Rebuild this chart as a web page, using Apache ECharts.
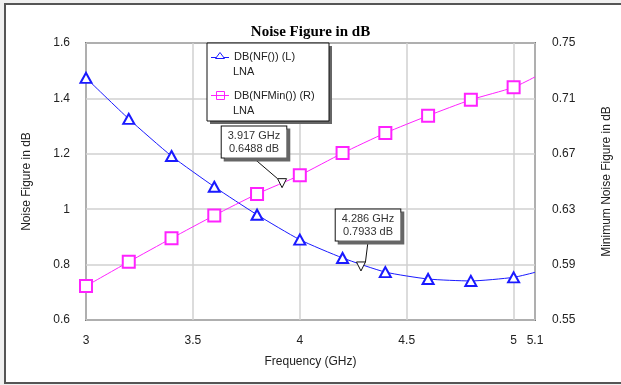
<!DOCTYPE html>
<html><head><meta charset="utf-8">
<script src="https://cdn.jsdelivr.net/npm/echarts@6/dist/echarts.min.js"></script>
<style>html,body{margin:0;padding:0;background:#f0f0f0;}#c{width:621px;height:385px;}</style>
</head><body><div id="c"></div>
<script>
const freq = [3.0, 3.2, 3.4, 3.6, 3.8, 4.0, 4.2, 4.4, 4.6, 4.8, 5.0, 5.1];
const nf = [1.474, 1.326, 1.192, 1.081, 0.980, 0.890, 0.824, 0.773, 0.748, 0.741, 0.754, 0.772];
const nfMin = [0.5745, 0.592, 0.609, 0.6255, 0.641, 0.6545, 0.6705, 0.685, 0.6975, 0.709, 0.718, 0.7255];
const nfName = 'DB(NF()) (L)';
const nfMinName = 'DB(NFMin()) (R)';
const traceLabel = 'LNA';
const marker1 = {freq: 3.917, val: 0.6488};
const marker2 = {freq: 4.286, val: 0.7933};
const rightLabels = ['0.55', '0.59', '0.63', '0.67', '0.71', '0.75'];

const chart = echarts.init(document.getElementById('c'), null, {renderer: 'canvas'});
const font = 'Liberation Sans, Arial, sans-serif';
const blue = '#1a1aff';
const magenta = '#ff22ff';

function seriesData(vals) {
  return freq.map((f, i) => i === freq.length - 1 ? {value: [f, vals[i]], symbol: 'none'} : [f, vals[i]]);
}

const markerLabel = {
  show: true,
  formatter: p => p.value[0].toFixed(3) + ' GHz\n' + p.value[1].toFixed(4) + ' dB',
  fontFamily: font, fontSize: 11, color: '#333', lineHeight: 13,
  backgroundColor: '#ffffff', borderColor: '#111', borderWidth: 1,
  padding: [3, 6, 2, 6],
  shadowColor: '#666', shadowOffsetX: 3, shadowOffsetY: 3, shadowBlur: 0,
  align: 'center', verticalAlign: 'middle'
};

chart.setOption({
  animation: false,
  backgroundColor: 'transparent',
  title: {
    text: 'Noise Figure in dB', left: 'center', top: 20,
    textStyle: {fontFamily: 'Liberation Serif, Times New Roman, serif', fontWeight: 'bold', fontSize: 15, color: '#000'}
  },
  graphic: [
    {type: 'rect', z: -10, shape: {x: 5, y: 4, width: 700, height: 379},
     style: {fill: '#fff', stroke: '#555', lineWidth: 2}},
    {type: 'rect', z: 49, shape: {x: 210, y: 46, width: 122, height: 78},
     style: {fill: '#666'}},
    {type: 'rect', z: 50, shape: {x: 207, y: 43, width: 122, height: 78},
     style: {fill: '#fff', stroke: '#111', lineWidth: 1}},
    {type: 'line', z: 61, shape: {x1: 211, y1: 57.5, x2: 229, y2: 57.5}, style: {stroke: blue, lineWidth: 1}},
    {type: 'polygon', z: 62, shape: {points: [[220, 52.5], [224.5, 58.5], [215.5, 58.5]]}, style: {fill: '#fff', stroke: blue, lineWidth: 1}},
    {type: 'line', z: 61, shape: {x1: 211, y1: 95.5, x2: 229, y2: 95.5}, style: {stroke: magenta, lineWidth: 1}},
    {type: 'rect', z: 62, shape: {x: 216.5, y: 91.5, width: 8, height: 8}, style: {fill: 'none', stroke: magenta, lineWidth: 1}},
    {type: 'text', z: 60, x: 233, y: 66, style: {text: traceLabel, font: '11px ' + font, fill: '#222'}},
    {type: 'text', z: 60, x: 233, y: 105, style: {text: traceLabel, font: '11px ' + font, fill: '#222'}}
  ],
  legend: {
    z: 60, orient: 'vertical', left: 205, top: 46,
    itemWidth: 18, itemHeight: 10, itemGap: 28,
    itemStyle: {opacity: 0}, lineStyle: {opacity: 0},
    textStyle: {fontFamily: font, fontSize: 11, color: '#222'},
    data: [nfName, nfMinName]
  },
  grid: {left: 86, right: 86, top: 43, bottom: 65, show: true, borderColor: '#111', borderWidth: 1.5, backgroundColor: 'transparent'},
  xAxis: {
    type: 'value', min: 3, max: 5.1, interval: 0.5,
    name: 'Frequency (GHz)', nameLocation: 'middle', nameGap: 36,
    nameTextStyle: {fontFamily: font, fontSize: 12, color: '#222'},
    axisLine: {show: false}, axisTick: {show: false},
    axisLabel: {margin: 15, fontFamily: font, fontSize: 12, color: '#222', showMaxLabel: true},
    splitLine: {show: true, lineStyle: {color: '#d0d0d0', width: 1.5}}
  },
  yAxis: [
    {
      type: 'value', min: 0.6, max: 1.6, interval: 0.2, position: 'left',
      name: 'Noise Figure in dB', nameLocation: 'middle', nameGap: 53,
      nameTextStyle: {fontFamily: font, fontSize: 12, color: '#222'},
      axisLine: {show: false}, axisTick: {show: false},
      axisLabel: {margin: 16, fontFamily: font, fontSize: 12, color: '#222',
        formatter: v => (Math.round(v * 10) / 10).toString()},
      splitLine: {show: true, lineStyle: {color: '#d0d0d0', width: 1.5}}
    },
    {
      type: 'value', min: 0.55, max: 0.75, interval: 0.01, position: 'right',
      name: 'Minimum Noise Figure in dB', nameLocation: 'middle', nameGap: 66,
      nameTextStyle: {fontFamily: font, fontSize: 12, color: '#222'},
      axisLine: {show: false}, axisTick: {show: false},
      axisLabel: {margin: 17, fontFamily: font, fontSize: 12, color: '#222',
        formatter: v => { const s = v.toFixed(2); return rightLabels.indexOf(s) >= 0 ? s : ''; }},
      splitLine: {show: false}
    }
  ],
  series: [
    {
      name: nfName, type: 'line', yAxisIndex: 0, data: seriesData(nf),
      smooth: 0.2, symbol: 'emptyTriangle', symbolSize: [11, 10],
      lineStyle: {color: blue, width: 1}, itemStyle: {color: blue, borderColor: blue, borderWidth: 1}, z: 3
    },
    {
      name: nfMinName, type: 'line', yAxisIndex: 1, data: seriesData(nfMin),
      smooth: 0.2, symbol: 'emptyRect', symbolSize: 12,
      lineStyle: {color: magenta, width: 1}, itemStyle: {color: magenta, borderColor: magenta, borderWidth: 1}, z: 3
    },
    {
      name: 'm1', type: 'scatter', yAxisIndex: 1, data: [[marker1.freq, marker1.val]],
      symbol: 'triangle', symbolRotate: 180, symbolSize: [9, 9],
      itemStyle: {color: '#ffffff', borderColor: '#111', borderWidth: 1, opacity: 1}, z: 70,
      label: markerLabel, labelLayout: {x: 254, y: 142}, labelLine: {show: true, lineStyle: {color: '#111', width: 1}}
    },
    {
      name: 'm2', type: 'scatter', yAxisIndex: 0, data: [[marker2.freq, marker2.val]],
      symbol: 'triangle', symbolRotate: 180, symbolSize: [9, 9],
      itemStyle: {color: '#ffffff', borderColor: '#111', borderWidth: 1, opacity: 1}, z: 70,
      label: markerLabel, labelLayout: {x: 368, y: 225}, labelLine: {show: true, lineStyle: {color: '#111', width: 1}}
    }
  ]
});
</script></body></html>
